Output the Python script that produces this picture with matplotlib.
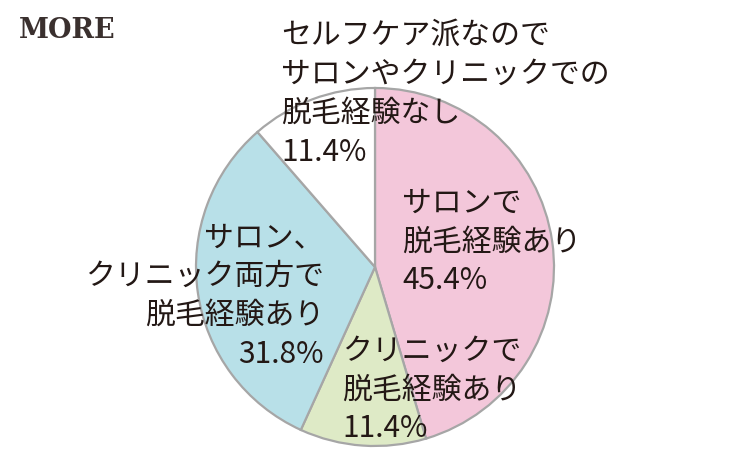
import matplotlib
matplotlib.use("Agg")
import matplotlib.pyplot as plt

categories = [
    "サロンで\n脱毛経験あり",
    "クリニックで\n脱毛経験あり",
    "サロン、\nクリニック両方で\n脱毛経験あり",
    "セルフケア派なので\nサロンやクリニックでの\n脱毛経験なし",
]
values = [45.4, 11.4, 31.8, 11.4]
colors = ["#f3c7da", "#deeac6", "#b8e0e8", "#ffffff"]

W, H = 750, 468
fig = plt.figure(figsize=(7.5, 4.68), dpi=100)
ax = fig.add_axes([0, 0, 1, 1])
ax.set_xlim(0, W)
ax.set_ylim(0, H)
ax.set_aspect("equal")
ax.axis("off")

cx, cy, r = 375, H - 267, 179
ax.pie(values, colors=colors, startangle=90, counterclock=False,
       center=(cx, cy), radius=r,
       wedgeprops=dict(edgecolor="#a6a6a6", linewidth=1.6))
ax.set_xlim(0, W)
ax.set_ylim(0, H)

font = ["Noto Sans CJK JP", "DejaVu Sans"]
fs = 21.5
tc = "#231815"
ls = 1.33

def lab(i):
    return f"{categories[i]}\n{values[i]:.1f}%"

# label positions (pixels from top-left)
ax.text(402, H - 242, lab(0), ha="left", va="center", fontsize=fs,
        family=font, color=tc, linespacing=ls)
ax.text(342, H - 390, lab(1), ha="left", va="center", fontsize=fs,
        family=font, color=tc, linespacing=ls)
ax.text(324, H - 296, lab(2), ha="right", va="center", fontsize=fs,
        family=font, color=tc, linespacing=ls, multialignment="right")
ax.text(281, H - 94, lab(3), ha="left", va="center", fontsize=fs,
        family=font, color=tc, linespacing=ls)

fig.text(19 / W, 1 - 31 / H, "MORE", ha="left", va="center",
         fontsize=19.5, family="DejaVu Serif",
         fontweight="bold", color="#3a302e")

fig.savefig("out.png", dpi=100)
